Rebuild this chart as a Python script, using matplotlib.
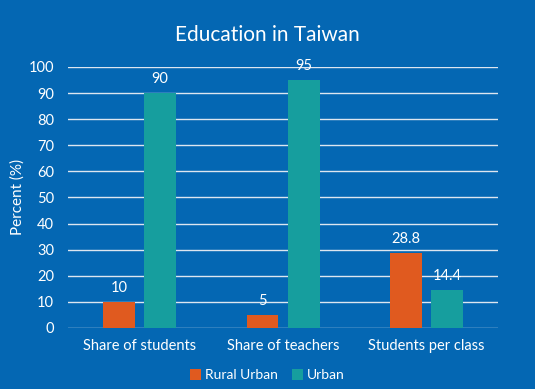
import matplotlib
matplotlib.use("Agg")
import matplotlib.pyplot as plt
import numpy as np

# data
categories = ["Share of students", "Share of teachers", "Students per class"]
rural_urban = [10, 5, 28.8]
urban = [90, 95, 14.4]
rural_labels = ["10", "5", "28.8"]
urban_labels = ["90", "95", "14.4"]

bg = "#0467B3"
orange = "#E05A1F"
teal = "#169E9E"

plt.rcParams['font.family'] = ['Lato', 'DejaVu Sans']

fig = plt.figure(figsize=(5.35, 3.89), dpi=100, facecolor=bg)
ax = fig.add_axes([0.127, 0.157, 0.804, 0.671], facecolor=bg)

x = np.arange(len(categories))
w = 0.223
off = 0.143
b1 = ax.bar(x - off, rural_urban, w, color=orange, label="Rural Urban", zorder=3)
b2 = ax.bar(x + off, urban, w, color=teal, label="Urban", zorder=3)

for bars, labs in [(b1, rural_labels), (b2, urban_labels)]:
    for b, t in zip(bars, labs):
        ax.annotate(t, (b.get_x() + b.get_width() / 2, b.get_height()),
                    xytext=(0, 5), textcoords="offset points",
                    ha="center", va="bottom", color="white", fontsize=10.5)

ax.set_xlim(-0.5, 2.5)
ax.set_ylim(0, 100)
ax.set_yticks(range(0, 101, 10))
ax.set_xticks(x)
ax.set_xticklabels(categories)
ax.grid(axis="y", color="#DDE6F0", linewidth=1, zorder=0)
for s in ax.spines.values():
    s.set_visible(False)
ax.tick_params(colors="white", length=0, labelsize=10.5)
ax.tick_params(axis="x", pad=8)
ax.tick_params(axis="y", pad=10)
ax.set_ylabel("Percent (%)", color="white", fontsize=11, labelpad=3)

fig.suptitle("Education in Taiwan", color="white", fontsize=15, y=0.935)

leg = fig.legend(loc="lower center", bbox_to_anchor=(0.5, -0.012), ncol=2,
                 frameon=False, fontsize=10, handlelength=0.8, handleheight=0.8,
                 handletextpad=0.3, columnspacing=1.0)
for t in leg.get_texts():
    t.set_color("white")

fig.savefig("out.png", dpi=100, facecolor=bg)
